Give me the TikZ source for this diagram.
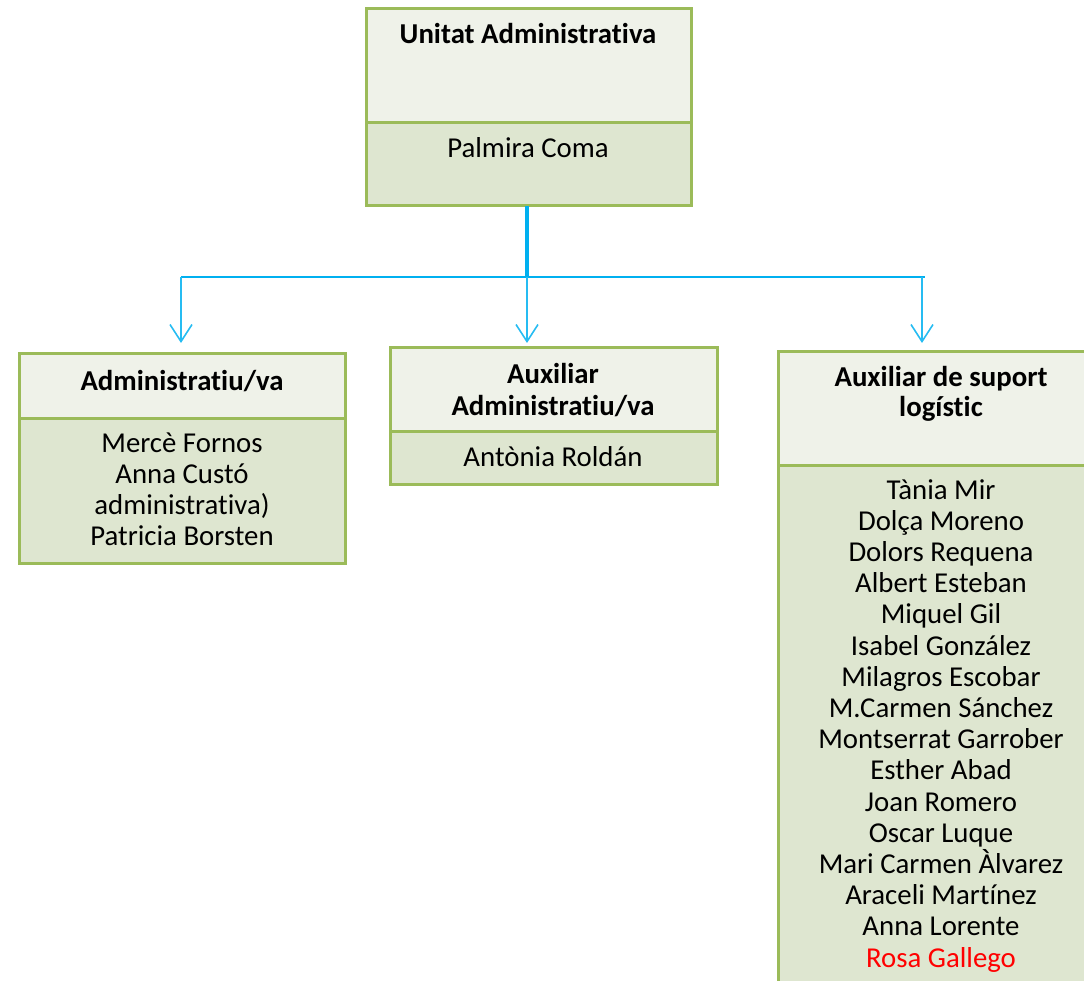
\documentclass[tikz,border=0pt]{standalone}
\usepackage{fontspec}
\setmainfont{Carlito}[Ligatures=NoCommon]
\usetikzlibrary{arrows.meta}
\definecolor{bordergreen}{HTML}{9BBB59}
\definecolor{hdrfill}{HTML}{EFF2E9}
\definecolor{bodyfill}{HTML}{DEE6D0}
\definecolor{linkblue}{HTML}{00B0F0}
\definecolor{redname}{HTML}{FF0000}
\tikzset{
  x=1pt, y=-1pt,
  boxpart/.style={draw=bordergreen, line width=3pt, rectangle, inner sep=0pt, outer sep=0pt, anchor=north west},
  hdr/.style={boxpart, fill=hdrfill},
  bdy/.style={boxpart, fill=bodyfill},
  txt/.style={anchor=base, inner sep=0pt, align=center, font=\fontsize{28.8}{31.2}\selectfont},
  btxt/.style={txt, font=\fontsize{28.8}{31.2}\selectfont\bfseries},
  link/.style={draw=linkblue, line width=2.5pt},
  drop/.style={draw=linkblue!85, line width=1.6pt, -{Straight Barb[length=17pt,width=22pt]}},
}
\begin{document}
\begin{tikzpicture}
\useasboundingbox (0,0) rectangle (1084,981);
% top box
\node[hdr, minimum width=325pt, minimum height=114pt] (uaH) at (366,9) {};
\node[bdy, minimum width=325pt, minimum height=83pt] (uaB) at (366,123) {};
\node[btxt] (uaT) at (528,44) {Unitat Administrativa};
\node[txt] (uaN) at (528,158) {Palmira Coma};
% box 1
\node[hdr, minimum width=326pt, minimum height=64pt] (b1H) at (19,354) {};
\node[bdy, minimum width=326pt, minimum height=145pt] (b1B) at (19,418) {};
\node[btxt] (b1T) at (182,390) {Administratiu/va};
\node[txt] (b1N1) at (182,452) {Mercè Fornos};
\node[txt] (b1N2) at (182,483) {Anna Custó};
\node[txt] (b1N3) at (182,514) {administrativa)};
\node[txt] (b1N4) at (182,545) {Patricia Borsten};
% box 2
\node[hdr, minimum width=327pt, minimum height=83pt] (b2H) at (390,348) {};
\node[bdy, minimum width=327pt, minimum height=53pt] (b2B) at (390,431) {};
\node[btxt] (b2T1) at (553,384) {Auxiliar};
\node[btxt] (b2T2) at (553,415) {Administratiu/va};
\node[txt] (b2N) at (553,466) {Antònia Roldán};
% box 3
\node[hdr, minimum width=326pt, minimum height=113pt] (b3H) at (778,352) {};
\node[bdy, minimum width=326pt, minimum height=540pt] (b3B) at (778,465) {};
\node[btxt] (b3T1) at (941,386) {Auxiliar de suport};
\node[btxt] (b3T2) at (941,416) {logístic};
\foreach \n [count=\i from 0] in {Tània Mir, Dolça Moreno, Dolors Requena, Albert Esteban, Miquel Gil, Isabel González, Milagros Escobar, M.Carmen Sánchez, Montserrat Garrober, Esther Abad, Joan Romero, Oscar Luque, Mari Carmen Àlvarez, Araceli Martínez, Anna Lorente}{
  \node[txt] (b3N\i) at (941,499+31.2*\i) {\n};
}
\node[txt, text=redname] (b3N15) at (941,967) {Rosa Gallego};
% connectors
\coordinate (jc) at (527,277);
\coordinate (jl) at (181,277);
\coordinate (jr) at (922,277);
\coordinate (je) at (925,277);
\draw[link, line width=3.5pt] (uaB.south -| jc) -- (jc);
\draw[link] (jl) -- (je);
\draw[drop, shorten >=11pt] (jl) -- (jl |- b1H.north);
\draw[drop, shorten >=5pt] (jc) -- (jc |- b2H.north);
\draw[drop, shorten >=9pt] (jr) -- (jr |- b3H.north);
\end{tikzpicture}
\end{document}
